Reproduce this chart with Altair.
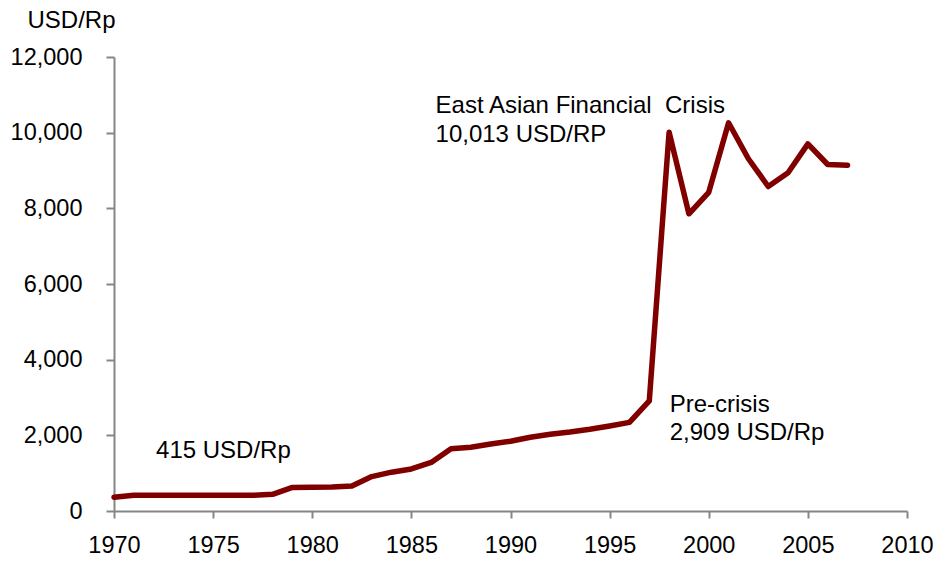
import altair as alt
import pandas as pd

years = list(range(1970, 2008))
rates = [362, 415, 415, 415, 415, 415, 415, 415, 442, 623, 627, 632, 661, 909,
         1026, 1111, 1283, 1644, 1686, 1770, 1843, 1950, 2030, 2087, 2161, 2249,
         2342, 2909, 10014, 7855, 8422, 10261, 9311, 8577, 8939, 9705, 9159, 9141]

ann_text = ["East Asian Financial\u00a0 Crisis", "10,013 USD/RP", "Pre-crisis", "2,909 USD/Rp", "415 USD/Rp"]
ann_x = [1986.22, 1986.22, 1998.03, 1998.03, 1972.12]
ann_y = [10520, 9750, 2625, 1880, 1400]

df = pd.DataFrame({"year": years, "rate": rates})
adf = pd.DataFrame({"text": ann_text, "x": ann_x, "y": ann_y})

FONT = "Liberation Sans"
FS = 23.5
AX = "#868686"
xs = alt.Scale(domain=[1970, 2010], nice=False, zero=False)
ys = alt.Scale(domain=[0, 12000], nice=False)

xaxis = alt.Axis(values=list(range(1970, 2011, 5)), format="d", title=None, grid=False,
                 labelFlush=False, labelOverlap=False,
                 labelFontSize=FS, labelFont=FONT, labelColor="black", domainColor=AX,
                 tickColor=AX, tickSize=7, labelPadding=15, domainWidth=2, tickWidth=2)
yaxis = alt.Axis(values=list(range(0, 12001, 2000)), format=",.0f", grid=False,
                 labelOverlap=False,
                 title="USD/Rp", titleAngle=0, titleAlign="left", titleBaseline="middle",
                 titleX=-87, titleY=-37, titleFont=FONT, titleFontSize=24, titleFontWeight="normal",
                 titleColor="black",
                 labelFontSize=FS, labelFont=FONT, labelColor="black", domainColor=AX,
                 tickColor=AX, tickSize=8, labelPadding=24, domainWidth=2, tickWidth=2)

line = alt.Chart(df).mark_line(color="#800000", strokeWidth=5.5, strokeCap="round", strokeJoin="round").encode(
    x=alt.X("year:Q", scale=xs, axis=xaxis),
    y=alt.Y("rate:Q", scale=ys, axis=yaxis),
)

text = alt.Chart(adf).mark_text(align="left", baseline="alphabetic", font=FONT, fontSize=24, color="black").encode(
    x=alt.X("x:Q", scale=xs, axis=xaxis), y=alt.Y("y:Q", scale=ys, axis=yaxis), text="text:N"
)

chart = alt.layer(line, text).properties(
    width=793, height=454,
    background="white",
    autosize=alt.AutoSizeParams(type="none"),
    padding={"left": 114, "top": 57, "right": 29, "bottom": 54},
).configure_view(stroke=None)

chart.save("out.html", embed_options={"renderer": "svg", "actions": False})
